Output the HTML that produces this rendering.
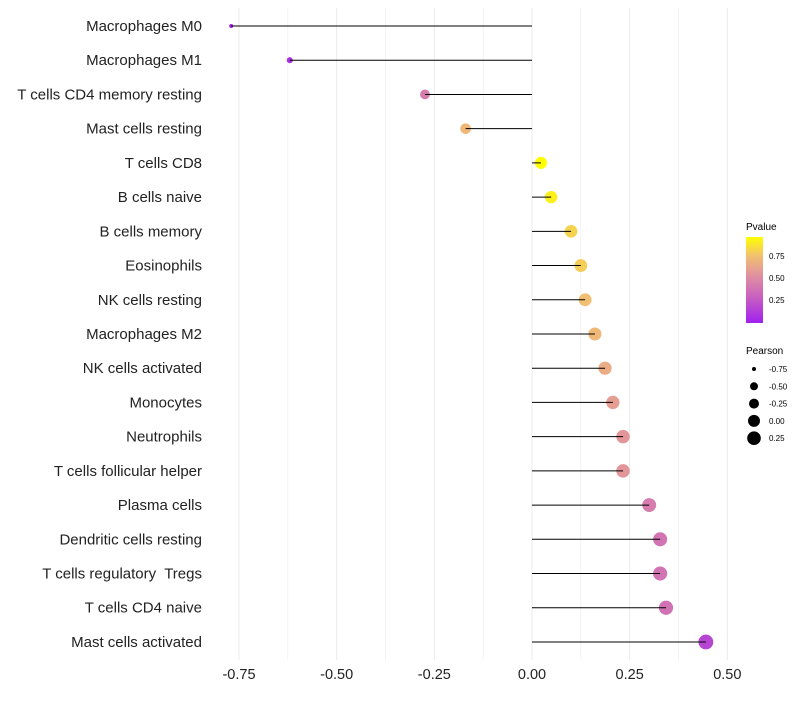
<!DOCTYPE html>
<html><head><meta charset="utf-8"><style>
body{margin:0;background:#fff;font-family:"Liberation Sans",sans-serif}
text{white-space:pre}
</style></head><body>
<svg id="chart" width="800" height="700">
<defs><linearGradient id="pg" x1="0" y1="1" x2="0" y2="0">
<stop offset="0" stop-color="#a020f0"/><stop offset="0.3" stop-color="#c860c0"/><stop offset="0.55" stop-color="#e090a0"/><stop offset="0.78" stop-color="#f2c070"/><stop offset="1" stop-color="#ffff00"/></linearGradient></defs>
<g id="grid"></g>
<g id="marks"></g>
<g id="stems"></g>
<g id="yaxis"></g>
<g id="xaxis"></g>
<g>
<text x="746" y="230" font-size="10">Pvalue</text>
<rect x="746" y="237" width="17" height="86" fill="url(#pg)"/>
<text x="769" y="259" font-size="8">0.75</text>
<text x="769" y="281" font-size="8">0.50</text>
<text x="769" y="303" font-size="8">0.25</text>
</g>
<g id="sizeleg">
<text x="746" y="354" font-size="10">Pearson</text>
</g>
</svg>
<script>
const categories=["Macrophages M0","Macrophages M1","T cells CD4 memory resting","Mast cells resting","T cells CD8","B cells naive","B cells memory","Eosinophils","NK cells resting","Macrophages M2","NK cells activated","Monocytes","Neutrophils","T cells follicular helper","Plasma cells","Dendritic cells resting","T cells regulatory  Tregs","T cells CD4 naive","Mast cells activated"];
const pearson=[-0.77,-0.62,-0.274,-0.17,0.023,0.049,0.10,0.125,0.136,0.161,0.187,0.207,0.233,0.233,0.30,0.328,0.328,0.343,0.445];
const pvalues=[0.02,0.08,0.44,0.72,0.97,0.92,0.82,0.8,0.75,0.72,0.66,0.6,0.56,0.56,0.43,0.39,0.39,0.38,0.17];
const xTicks=[-0.75,-0.5,-0.25,0,0.25,0.5];
const xTickLabels=["-0.75","-0.50","-0.25","0.00","0.25","0.50"];
const sizeLegendVals=[-0.75,-0.5,-0.25,0,0.25];
const sizeLegendRadii=[2,4,5,6,6.8];
const NS="http://www.w3.org/2000/svg";
const X=v=>532+v*390.67;
const Y=i=>26+i*34.22;
function R(v){const a=sizeLegendVals,r=sizeLegendRadii;if(v<=a[0])return r[0];for(let i=1;i<a.length;i++){if(v<=a[i])return r[i-1]+(r[i]-r[i-1])*(v-a[i-1])/(a[i]-a[i-1]);}return r[r.length-1]+(v-a[a.length-1])*3.2;}
const stops=[[0,[160,32,240]],[0.3,[200,96,192]],[0.55,[224,144,160]],[0.78,[242,192,112]],[1,[255,255,0]]];
function C(p){p=Math.max(0,Math.min(1,p/0.97));for(let i=1;i<stops.length;i++){if(p<=stops[i][0]){const t=(p-stops[i-1][0])/(stops[i][0]-stops[i-1][0]);const a=stops[i-1][1],b=stops[i][1];return`rgb(${a.map((c,k)=>Math.round(c+(b[k]-c)*t)).join(',')})`;}}return"#ff0";}
function mk(t,at,parent){const e=document.createElementNS(NS,t);for(const k in at)e.setAttribute(k,at[k]);document.getElementById(parent).appendChild(e);return e;}
for(let v=-0.875;v<=0.6;v+=0.125){if(X(v)<212||X(v)>732)continue;
const g=mk('line',{x1:X(v),x2:X(v),y1:8,y2:660,stroke:'#ebebeb','stroke-width':Math.abs(v*4-Math.round(v*4))<1e-6?1:0.6},'grid');

}
xTicks.forEach((v,i)=>{const t=mk('text',{x:X(v),y:679,'font-size':14.5,'text-anchor':'middle',fill:'#222'},'xaxis');t.textContent=xTickLabels[i];

});
categories.forEach((c,i)=>{
const t=mk('text',{x:202,y:Y(i)+5,'font-size':15,'text-anchor':'end',fill:'#222'},'yaxis');t.textContent=c;


const d=mk('circle',{cx:X(pearson[i]),cy:Y(i),r:R(pearson[i]),fill:C(pvalues[i])},'marks');


const l=mk('line',{x1:X(0),x2:X(pearson[i]),y1:Y(i),y2:Y(i),stroke:'#000','stroke-width':1},'stems');


});
sizeLegendVals.forEach((v,i)=>{const y=369+i*17.3;
const d=mk('circle',{cx:754,cy:y,r:sizeLegendRadii[i],fill:'#000'},'sizeleg');


const t=mk('text',{x:769,y:y+3,'font-size':8},'sizeleg');t.textContent=v.toFixed(2);

});
</script>
</body></html>
